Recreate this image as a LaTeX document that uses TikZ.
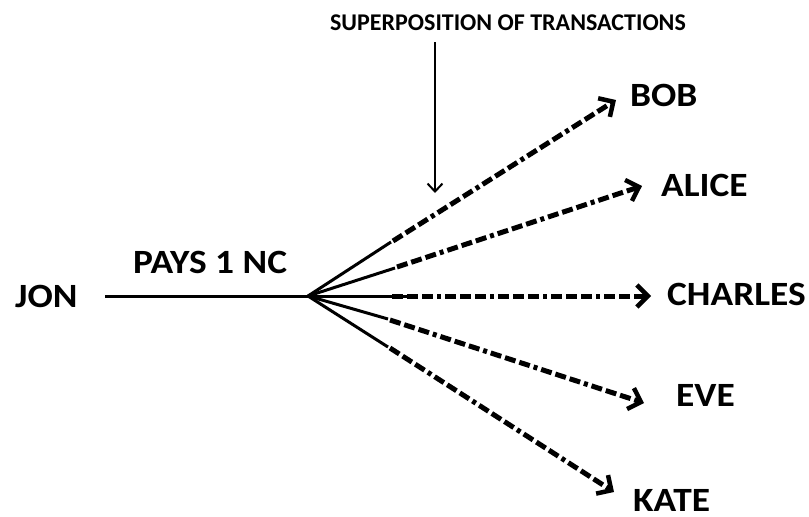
\documentclass[tikz,border=0pt]{standalone}
\usepackage{fontspec}
\setmainfont{Carlito}
\newfontfamily\widefont{Carlito}[FakeStretch=1.1]
\usetikzlibrary{arrows.meta}
\tikzset{
  lbl/.style={font=\widefont\bfseries\fontsize{34}{36}\selectfont, inner sep=0pt, anchor=base west},
  small/.style={font=\bfseries\fontsize{24}{26}\selectfont, inner sep=0pt, anchor=base},
  solidline/.style={line width=3pt},
  dashline/.style={line width=5pt, dash pattern=on 11pt off 4pt on 11pt off 4pt on 11pt off 4pt on 4pt off 4pt,
     -{Straight Barb[length=11pt,width=22pt,line width=4.5pt]}},
}
\begin{document}
\begin{tikzpicture}[x=1pt,y=-1pt]
\useasboundingbox (0,0) rectangle (809,517);
\node[lbl] (jon) at (15,307) {JON};
\node[lbl] (pays) at (133,273) {PAYS 1 NC};
\node[small] (sup) at (508,30) {SUPERPOSITION OF TRANSACTIONS};
\node[lbl] (bob) at (630,106) {BOB};
\node[lbl] (alice) at (661,196) {ALICE};
\node[lbl] (charles) at (667,305) {CHARLES};
\node[lbl] (eve) at (676,406) {EVE};
\node[lbl] (kate) at (633,511) {KATE};

\coordinate (start) at (105,296);
\coordinate (hub) at (308,296);
\coordinate (sb) at (391,242);
\coordinate (sa) at (395,268);
\coordinate (sc) at (407,296);
\coordinate (se) at (388,319);
\coordinate (sk) at (388,347);
\coordinate (db) at (393,241);
\coordinate (da) at (397,267);
\coordinate (dc) at (392,296);
\coordinate (de) at (390,320);
\coordinate (dk) at (390,348);
\coordinate (eb) at (616,100);
\coordinate (ea) at (642,186);
\coordinate (ec) at (651,296);
\coordinate (ee) at (644,403);
\coordinate (ek) at (614,492);

\draw[solidline] (start) -- (hub);
\draw[solidline] (hub) -- (sb);
\draw[solidline] (hub) -- (sa);
\draw[solidline] (hub) -- (sc);
\draw[solidline] (hub) -- (se);
\draw[solidline] (hub) -- (sk);
\draw[dashline] (db) -- (eb);
\draw[dashline] (da) -- (ea);
\draw[dashline] (dc) -- (ec);
\draw[dashline] (de) -- (ee);
\draw[dashline] (dk) -- (ek);

\coordinate (vt) at (435,42);
\coordinate (vb) at (435,193);
\draw[line width=2pt, -{Straight Barb[length=8pt,width=15pt,line width=2pt]}] (vt) -- (vb);
\end{tikzpicture}
\end{document}
